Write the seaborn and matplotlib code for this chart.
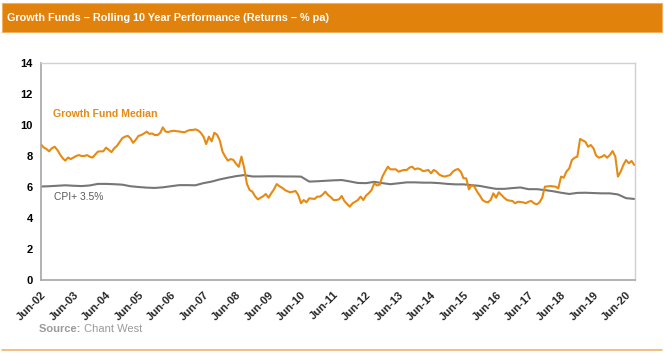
import matplotlib
matplotlib.use("Agg")
import matplotlib.pyplot as plt
from matplotlib import font_manager
from matplotlib.patches import Rectangle
from matplotlib.lines import Line2D
import seaborn as sns
import pandas as pd

sns.set_theme(style="white")
plt.rcParams["font.family"] = ["Liberation Sans", "DejaVu Sans"]

# ----------------------------
# Data
# ----------------------------
start_month = "2002-06-01"

# Growth Fund Median, rolling 10 year return (% pa), monthly from Jun-02
growth_median = [
    8.75, 8.55, 8.45, 8.30, 8.50, 8.60, 8.40, 8.10, 7.85, 7.70, 7.90, 7.80,
    7.90, 8.00, 8.06, 8.00, 8.00, 8.06, 7.95, 7.90, 8.10, 8.28, 8.30, 8.30,
    8.54, 8.40, 8.25, 8.50, 8.65, 8.90, 9.15, 9.25, 9.30, 9.15, 8.85, 9.05,
    9.30, 9.35, 9.45, 9.57, 9.43, 9.45, 9.35, 9.35, 9.50, 9.85, 9.57, 9.55,
    9.60, 9.63, 9.60, 9.58, 9.55, 9.53, 9.62, 9.68, 9.68, 9.72, 9.65, 9.50,
    9.25, 8.77, 9.25, 8.95, 9.50, 9.37, 9.00, 8.28, 7.95, 7.70, 7.80, 7.75,
    7.50, 7.30, 7.96, 7.20, 6.20, 5.80, 5.70, 5.40, 5.20, 5.30, 5.40, 5.55,
    5.31, 5.59, 5.85, 6.19, 6.05, 5.95, 5.81, 5.72, 5.66, 5.70, 5.74, 5.48,
    4.95, 5.16, 5.01, 5.27, 5.25, 5.23, 5.38, 5.38, 5.52, 5.70, 5.48, 5.35,
    5.16, 5.16, 5.20, 5.42, 5.10, 4.90, 4.73, 4.95, 5.05, 5.16, 5.38, 5.16,
    5.45, 5.60, 5.80, 6.24, 6.10, 6.15, 6.67, 7.00, 7.31, 7.14, 7.14, 7.14,
    6.99, 7.05, 7.10, 7.10, 7.25, 7.31, 7.14, 7.20, 7.15, 7.03, 7.05, 7.10,
    6.88, 7.10, 6.99, 6.80, 6.72, 6.67, 6.72, 6.77, 6.99, 7.10, 7.16, 6.99,
    6.56, 6.56, 5.85, 6.13, 6.02, 5.70, 5.45, 5.16, 5.05, 5.01, 5.16, 5.59,
    5.31, 5.66, 5.48, 5.30, 5.16, 5.12, 5.10, 4.95, 5.05, 5.03, 5.01, 4.95,
    5.05, 5.10, 4.95, 4.88, 5.00, 5.30, 6.02, 6.04, 6.06, 6.04, 6.02, 5.91,
    6.67, 6.60, 7.00, 7.20, 7.74, 7.89, 7.96, 9.10, 9.00, 8.92, 8.60, 8.71,
    8.49, 8.02, 7.89, 7.95, 8.06, 7.89, 8.06, 8.32, 7.96, 6.67, 6.99, 7.42,
    7.74, 7.53, 7.68, 7.42,
]

# CPI + 3.5% objective, quarterly from Jun-02
cpi_plus = [
    6.03, 6.05, 6.08, 6.11, 6.08, 6.06, 6.10, 6.20, 6.20, 6.18, 6.15, 6.05,
    6.00, 5.96, 5.94, 5.98, 6.05, 6.12, 6.12, 6.11, 6.25, 6.35, 6.49, 6.60,
    6.70, 6.77, 6.68, 6.68, 6.69, 6.69, 6.68, 6.68, 6.67, 6.35, 6.37, 6.40,
    6.43, 6.45, 6.36, 6.26, 6.25, 6.33, 6.25, 6.18, 6.24, 6.30, 6.30, 6.28,
    6.28, 6.25, 6.20, 6.17, 6.17, 6.12, 6.07, 5.97, 5.88, 5.88, 5.93, 5.97,
    5.86, 5.86, 5.80, 5.73, 5.63, 5.55, 5.62, 5.63, 5.61, 5.59, 5.59, 5.52,
    5.28, 5.23,
]

y_ticks = [0, 2, 4, 6, 8, 10, 12, 14]
title = "Growth Funds \u2013 Rolling 10 Year Performance (Returns \u2013 % pa)"
growth_label = "Growth Fund Median"
cpi_label = "CPI+ 3.5%"

growth_dates = pd.date_range(start_month, periods=len(growth_median), freq="MS")
cpi_dates = pd.date_range(start_month, periods=len(cpi_plus), freq="3MS")
tick_dates = pd.date_range(start_month, "2020-06-01", freq="12MS")

orange = "#E58A13"
grey_line = "#767676"
axis_grey = "#BFBFBF"

# condensed face for the banner if one is installed
installed = {f.name for f in font_manager.fontManager.ttflist}
title_family = "Liberation Sans"
for cand in ["Liberation Sans Narrow", "Arial Narrow", "DejaVu Sans Condensed"]:
    if cand in installed:
        title_family = cand
        break

# ----------------------------
# Figure
# ----------------------------
fig = plt.figure(figsize=(6.64, 3.53), dpi=100)
ax = fig.add_axes([41 / 664, 1 - 280 / 353, 594 / 664, 217 / 353])

sns.lineplot(x=cpi_dates, y=cpi_plus, ax=ax, color=grey_line, linewidth=1.5)
sns.lineplot(x=growth_dates, y=growth_median, ax=ax, color=orange, linewidth=1.5)

ax.set_xlim(growth_dates[0], growth_dates[-1] + pd.Timedelta(days=8))
ax.set_ylim(0, 14)
ax.set_yticks(y_ticks)
ax.set_yticklabels([str(t) for t in y_ticks], fontsize=8, fontweight="bold", color="black")
ax.set_xticks(tick_dates)
ax.set_xticklabels([d.strftime("%b-%y") for d in tick_dates], fontsize=8,
                   fontweight="bold", rotation=45, ha="right", va="top",
                   rotation_mode="anchor")
ax.tick_params(axis="both", direction="out", length=3, width=1, color=axis_grey, pad=3)
ax.tick_params(axis="x", pad=4)
ax.set_xlabel("")
ax.set_ylabel("")
for side in ["left", "bottom"]:
    ax.spines[side].set_color("#A6A6A6")
    ax.spines[side].set_linewidth(1.2)
for side in ["top", "right"]:
    ax.spines[side].set_color("#D0D0D0")
    ax.spines[side].set_linewidth(1.0)

ax.text(12 / 594, (280 - 114) / 217, growth_label, transform=ax.transAxes,
        color=orange, fontsize=7.6, fontweight="bold", va="center", ha="left")
ax.text(13 / 594, (280 - 197) / 217, cpi_label, transform=ax.transAxes,
        color="#595959", fontsize=7.4, va="center", ha="left")

# title bar
fig.patches.append(Rectangle((2 / 664, 1 - 32 / 353), 660 / 664, 29 / 353,
                             transform=fig.transFigure, facecolor="#E0820B",
                             edgecolor="#F0B060", linewidth=0.8, zorder=0))
ttl = fig.text(7 / 664, 1 - 18 / 353, title, color="white", fontsize=10, fontweight="bold",
               va="center", ha="left", family=title_family)

# source and bottom rule
src = fig.text(39 / 664, 1 - 329 / 353, "Source: ", color="#9A9A9A", fontsize=8,
               fontweight="bold", va="center", ha="left")
fig.canvas.draw()
# fit the banner text to the width it has in the original (~323 px)
w = ttl.get_window_extent().width
ttl.set_fontsize(min(10.5, 10 * 323 / w))
bb = src.get_window_extent()
fig.text(bb.x1 / 664, 1 - 329 / 353, "Chant West", color="#9A9A9A", fontsize=8,
         va="center", ha="left")
fig.lines.append(Line2D([2 / 664, 662 / 664], [1 - 350 / 353, 1 - 350 / 353],
                        transform=fig.transFigure, color="#F5B36A", linewidth=1.2))

fig.savefig("out.png", dpi=100)
